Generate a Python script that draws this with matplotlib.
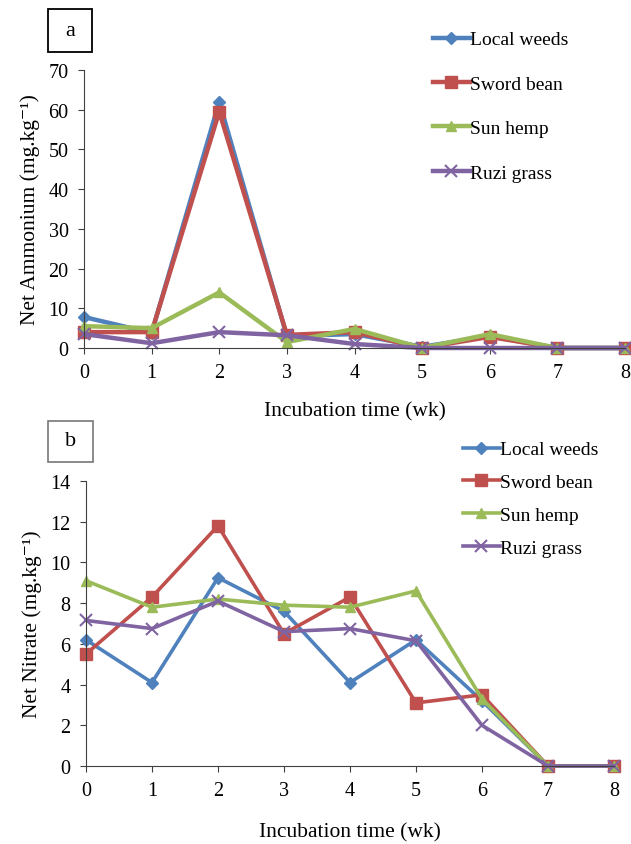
import matplotlib
matplotlib.use("Agg")
import matplotlib.pyplot as plt
from matplotlib.patches import Rectangle

plt.rcParams['font.family'] = ['Liberation Serif', 'DejaVu Serif']

weeks = [0, 1, 2, 3, 4, 5, 6, 7, 8]
series_names = ["Local weeds", "Sword bean", "Sun hemp", "Ruzi grass"]

amm_local = [7.8, 3.8, 62.0, 3.0, 3.5, 0.3, 3.0, 0.0, 0.0]
amm_sword = [4.0, 4.0, 59.5, 3.3, 4.0, 0.0, 2.8, 0.0, 0.0]
amm_sun = [5.5, 5.0, 14.0, 1.5, 4.8, 0.0, 3.5, 0.0, 0.0]
amm_ruzi = [3.5, 1.2, 4.0, 3.2, 1.0, 0.0, 0.0, 0.0, 0.0]

nit_local = [6.2, 4.1, 9.25, 7.6, 4.1, 6.2, 3.2, 0.0, 0.0]
nit_sword = [5.5, 8.3, 11.8, 6.5, 8.3, 3.1, 3.5, 0.0, 0.0]
nit_sun = [9.1, 7.8, 8.2, 7.9, 7.8, 8.6, 3.3, 0.0, 0.0]
nit_ruzi = [7.15, 6.75, 8.1, 6.6, 6.75, 6.15, 2.0, 0.0, 0.0]

colors = ["#4F81BD", "#C0504D", "#9BBB59", "#8064A2"]
markers = ["D", "s", "^", "x"]
msizes = [6.5, 8, 7.5, 8]

W, H = 631, 845
fig = plt.figure(figsize=(W / 100, H / 100), dpi=100)

def style_axes(ax):
    ax.spines['top'].set_visible(False)
    ax.spines['right'].set_visible(False)
    ax.spines['left'].set_color('#404040')
    ax.spines['bottom'].set_color('#404040')
    ax.tick_params(direction='out', length=4, color='#404040', labelsize=14.5, pad=7)
    ax.set_xlim(0, 8)
    ax.set_xticks(weeks)

# Panel a
axa = fig.add_axes([84 / W, 1 - 349 / H, (625 - 84) / W, (349 - 71) / H])
for vals, c, m, ms, n in zip([amm_local, amm_sword, amm_sun, amm_ruzi], colors, markers, msizes, series_names):
    axa.plot(weeks, vals, color=c, marker=m, markersize=ms, linewidth=3.2, label=n,
             clip_on=False, markeredgewidth=1.5 if m == 'x' else 1)
style_axes(axa)
axa.set_ylim(0, 70)
axa.set_yticks(range(0, 71, 10))
axa.set_ylabel("Net Ammonium (mg.kg\u207b\u00b9)", fontsize=15.5, labelpad=6)
axa.set_xlabel("Incubation time (wk)", fontsize=15.5, labelpad=14)
fig.legend(*axa.get_legend_handles_labels(), loc='upper left',
           bbox_to_anchor=(425 / W, 1 - 24 / H), frameon=False, fontsize=14,
           labelspacing=1.38, handlelength=1.9, handletextpad=0.0, borderaxespad=0)

# Panel b
axb = fig.add_axes([86 / W, 1 - 767 / H, (614 - 86) / W, (767 - 482) / H])
for vals, c, m, ms, n in zip([nit_local, nit_sword, nit_sun, nit_ruzi], colors, markers, msizes, series_names):
    axb.plot(weeks, vals, color=c, marker=m, markersize=ms, linewidth=2.6, label=n,
             clip_on=False, markeredgewidth=1.5 if m == 'x' else 1)
style_axes(axb)
axb.set_ylim(0, 14)
axb.set_yticks(range(0, 15, 2))
axb.set_ylabel("Net Nitrate (mg.kg\u207b\u00b9)", fontsize=15.5, labelpad=6)
axb.set_xlabel("Incubation time (wk)", fontsize=15.5, labelpad=16)
fig.legend(*axb.get_legend_handles_labels(), loc='upper left',
           bbox_to_anchor=(455 / W, 1 - 434 / H), frameon=False, fontsize=14,
           labelspacing=0.78, handlelength=1.9, handletextpad=0.0, borderaxespad=0)

# Panel labels
fig.patches.append(Rectangle((48 / W, 1 - 53 / H), 44 / W, 43 / H, transform=fig.transFigure,
                             fill=False, ec='black', lw=1.3))
fig.text(70 / W, 1 - 31 / H, "a", fontsize=16, ha='center', va='center')
fig.patches.append(Rectangle((48 / W, 1 - 463 / H), 45 / W, 41 / H, transform=fig.transFigure,
                             fill=False, ec='#777777', lw=1.2))
fig.text(70.5 / W, 1 - 442 / H, "b", fontsize=16, ha='center', va='center')

fig.savefig("out.png", dpi=100)
